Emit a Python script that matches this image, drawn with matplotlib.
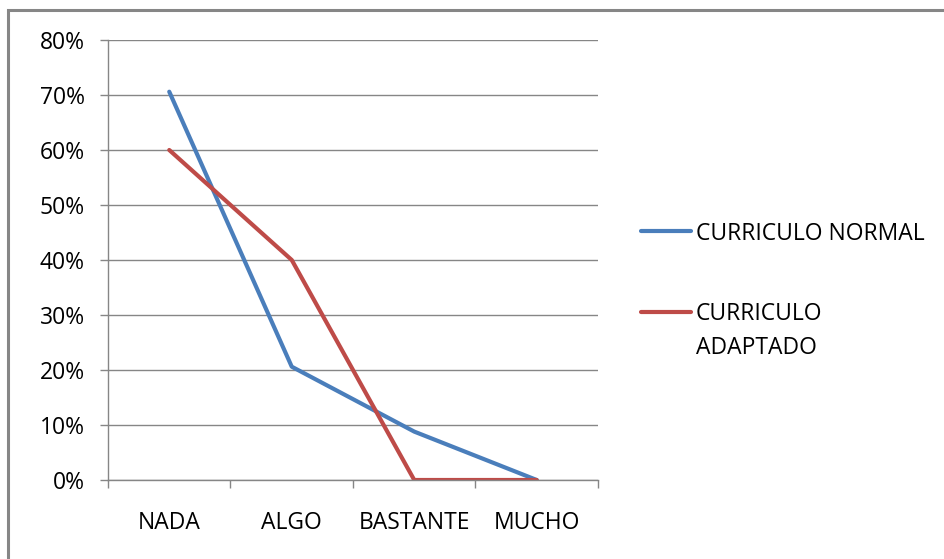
import matplotlib
matplotlib.use("Agg")
import matplotlib.pyplot as plt
from matplotlib.lines import Line2D
from matplotlib.patches import Rectangle

categories = ["NADA", "ALGO", "BASTANTE", "MUCHO"]
normal = [70.6, 20.6, 8.8, 0.0]
adaptado = [60.0, 40.0, 0.0, 0.0]
series_names = ["CURRICULO NORMAL", "CURRICULO\nADAPTADO"]
yticks = [0, 10, 20, 30, 40, 50, 60, 70, 80]
ytick_labels = [f"{v}%" for v in yticks]

W, H = 945, 559
FS = 16.5
plt.rcParams['font.family'] = ['Open Sans', 'DejaVu Sans']
fig = plt.figure(figsize=(W / 100, H / 100), dpi=100)
fig.patch.set_facecolor("white")

# outer border
fig.add_artist(Rectangle((8 / W, -0.05), 1.1, 1 - 10 / H + 0.05, transform=fig.transFigure,
                         fill=False, edgecolor="#868686", linewidth=2.2))

left, right, top, bottom = 108, 598, 40, 480
ax = fig.add_axes([left / W, 1 - bottom / H, (right - left) / W, (bottom - top) / H])

blue = "#4A7EBB"
red = "#BE4B48"
grid = "#868686"

x = [i + 0.5 for i in range(len(categories))]
ax.plot(x, normal, color=blue, linewidth=3.0, solid_capstyle="round")
ax.plot(x, adaptado, color=red, linewidth=3.0, solid_capstyle="round")

ax.set_xlim(0, len(categories))
ax.set_ylim(0, 80)
ax.set_yticks(yticks)
ax.set_yticklabels(ytick_labels, fontsize=FS)
ax.yaxis.grid(True, color=grid, linewidth=1.0)
ax.set_axisbelow(True)

ax.set_xticks(range(len(categories) + 1))
ax.set_xticklabels([])
ax.set_xticks(x, minor=True)
ax.set_xticklabels(categories, minor=True, fontsize=FS)
ax.tick_params(axis="x", which="major", length=5.8, width=1.0, color=grid, direction="out")
ax.tick_params(axis="x", which="minor", length=0, pad=22)
ax.tick_params(axis="y", length=5.8, width=1.0, color=grid, pad=11)

for s in ["top", "right"]:
    ax.spines[s].set_visible(False)
for s in ["left", "bottom"]:
    ax.spines[s].set_color(grid)
    ax.spines[s].set_linewidth(1.0)

# legend
leg_items = [(series_names[0], blue, 231), (series_names[1], red, 312)]
for label, col, yy in leg_items:
    fig.add_artist(Line2D([641 / W, 691 / W], [1 - yy / H, 1 - yy / H], transform=fig.transFigure,
                          color=col, linewidth=3.0, solid_capstyle="round"))
    for i, line in enumerate(label.split("\n")):
        fig.text(696 / W, 1 - (yy + 8.5 + 33 * i) / H, line, fontsize=FS,
                 va="baseline", ha="left")

fig.savefig("out.png", dpi=100)
